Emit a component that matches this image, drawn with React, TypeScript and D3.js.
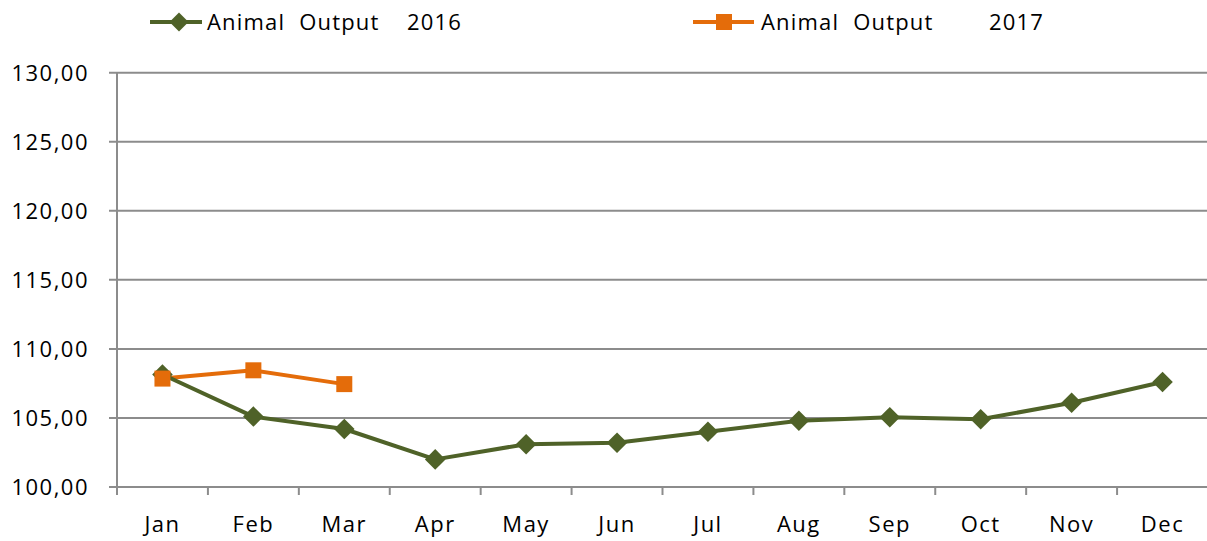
import { useEffect, useRef } from "react";
import * as d3 from "d3";

const months = ["Jan", "Feb", "Mar", "Apr", "May", "Jun", "Jul", "Aug", "Sep", "Oct", "Nov", "Dec"];
const output2016 = [108.15, 105.1, 104.2, 102.0, 103.1, 103.2, 104.0, 104.8, 105.05, 104.9, 106.1, 107.6];
const output2017 = [107.85, 108.45, 107.45];
const yTicks = [100, 105, 110, 115, 120, 125, 130];

const GREEN = "#4F6228";
const ORANGE = "#E46C0A";
const GRID = "#8c8c8c";
const FONT = "'Open Sans', sans-serif";

const App = () => {
  const ref = useRef<SVGSVGElement>(null);

  useEffect(() => {
    const dimensions = { width: 1207, height: 541, left: 117, right: 1208, top: 72.7, bottom: 487 };
    const svg = d3.select(ref.current);
    svg.selectAll("*").remove();

    const xScale = d3.scaleBand().domain(months).range([dimensions.left, dimensions.right]);
    const yScale = d3.scaleLinear().domain([100, 130]).range([dimensions.bottom, dimensions.top]);
    const cx = (m: string) => (xScale(m) as number) + xScale.bandwidth() / 2;

    // horizontal gridlines
    svg
      .append("g")
      .selectAll("line")
      .data(yTicks)
      .enter()
      .append("line")
      .attr("x1", dimensions.left - 8)
      .attr("x2", dimensions.right)
      .attr("y1", (d) => yScale(d))
      .attr("y2", (d) => yScale(d))
      .attr("stroke", GRID)
      .attr("stroke-width", 2);

    // y axis line
    svg
      .append("line")
      .attr("x1", dimensions.left)
      .attr("x2", dimensions.left)
      .attr("y1", dimensions.top)
      .attr("y2", dimensions.bottom + 8)
      .attr("stroke", GRID)
      .attr("stroke-width", 2);

    // x ticks
    svg
      .append("g")
      .selectAll("line")
      .data(months.slice(1))
      .enter()
      .append("line")
      .attr("x1", (d) => xScale(d) as number)
      .attr("x2", (d) => xScale(d) as number)
      .attr("y1", dimensions.bottom)
      .attr("y2", dimensions.bottom + 8)
      .attr("stroke", GRID)
      .attr("stroke-width", 2);

    // y labels
    svg
      .append("g")
      .selectAll("text")
      .data(yTicks)
      .enter()
      .append("text")
      .attr("x", 89)
      .attr("y", (d) => yScale(d) + 8)
      .attr("text-anchor", "end")
      .attr("font-family", FONT)
      .attr("font-size", 22)
      .attr("letter-spacing", 1.5)
      .attr("fill", "#000")
      .text((d) => d3.format(".2f")(d).replace(".", ","));

    // x labels
    svg
      .append("g")
      .selectAll("text")
      .data(months)
      .enter()
      .append("text")
      .attr("x", (d) => cx(d))
      .attr("y", 532)
      .attr("text-anchor", "middle")
      .attr("font-family", FONT)
      .attr("font-size", 22)
      .attr("letter-spacing", 1.5)
      .attr("fill", "#000")
      .text((d) => d);

    const line = d3
      .line<number>()
      .x((_, i) => cx(months[i]))
      .y((d) => yScale(d));

    const diamond = d3.symbol().type(d3.symbolDiamond2).size(270);

    // 2017 series
    svg
      .append("path")
      .attr("d", line(output2017))
      .attr("fill", "none")
      .attr("stroke", ORANGE)
      .attr("stroke-width", 4)
      .attr("stroke-linejoin", "round");

    // 2016 series
    svg
      .append("path")
      .attr("d", line(output2016))
      .attr("fill", "none")
      .attr("stroke", GREEN)
      .attr("stroke-width", 4)
      .attr("stroke-linejoin", "round");
    svg
      .append("g")
      .selectAll("path")
      .data(output2016)
      .enter()
      .append("path")
      .attr("d", diamond())
      .attr("transform", (d, i) => `translate(${cx(months[i])},${yScale(d)})`)
      .attr("fill", GREEN);

    svg
      .append("g")
      .selectAll("rect")
      .data(output2017)
      .enter()
      .append("rect")
      .attr("x", (d, i) => cx(months[i]) - 8)
      .attr("y", (d) => yScale(d) - 8)
      .attr("width", 16)
      .attr("height", 16)
      .attr("fill", ORANGE);

    // legend
    const legend = [
      { label: "Animal  Output", year: "2016", color: GREEN, x1: 150, x2: 202, mx: 179, textX: 207, yearX: 407, marker: "diamond" },
      { label: "Animal  Output", year: "2017", color: ORANGE, x1: 693, x2: 754, mx: 724, textX: 761, yearX: 989, marker: "square" },
    ];
    const lg = svg.append("g");
    legend.forEach((l) => {
      const ly = 22;
      lg.append("line")
        .attr("x1", l.x1)
        .attr("x2", l.x2)
        .attr("y1", ly)
        .attr("y2", ly)
        .attr("stroke", l.color)
        .attr("stroke-width", 4);
      if (l.marker === "diamond") {
        lg.append("path")
          .attr("d", d3.symbol().type(d3.symbolDiamond2).size(230)())
          .attr("transform", `translate(${l.mx},${ly})`)
          .attr("fill", l.color);
      } else {
        lg.append("rect")
          .attr("x", l.mx - 8)
          .attr("y", ly - 8)
          .attr("width", 16)
          .attr("height", 16)
          .attr("fill", l.color);
      }
      lg.append("text")
        .attr("x", l.textX)
        .attr("y", ly + 8)
        .attr("font-family", FONT)
        .attr("font-size", 22)
        .attr("letter-spacing", 1.2)
        .style("white-space", "pre")
        .attr("fill", "#000")
        .text(l.label);
      lg.append("text")
        .attr("x", l.yearX)
        .attr("y", ly + 8)
        .attr("font-family", FONT)
        .attr("font-size", 22)
        .attr("letter-spacing", 1.2)
        .attr("fill", "#000")
        .text(l.year);
    });
  }, []);

  return (
    <svg
      ref={ref}
      width={1207}
      height={541}
      style={{ position: "absolute", left: 0, top: 0, background: "#fff" }}
    />
  );
};

export default App;
